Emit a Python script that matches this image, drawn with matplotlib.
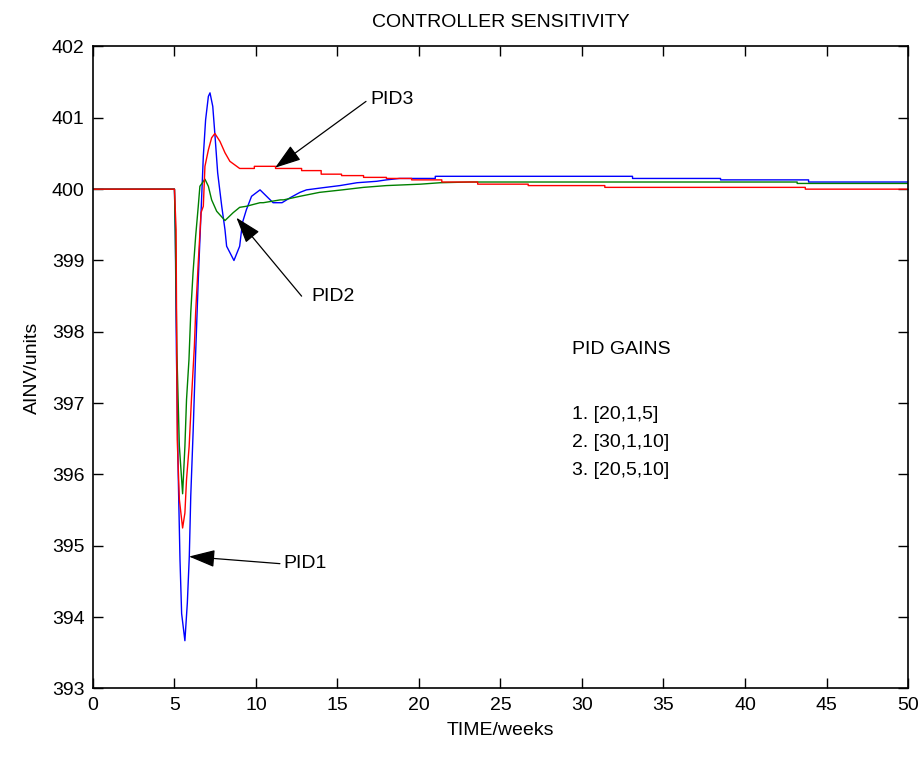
import matplotlib
matplotlib.use("Agg")
import matplotlib.pyplot as plt

plt.rcParams["font.family"] = ["Liberation Sans", "DejaVu Sans"]

# PID1 [20,1,5] - blue
pid1_t = [0, 5.0, 5.05, 5.12, 5.23, 5.34, 5.44, 5.64, 5.79, 5.91, 6.0, 6.15, 6.3, 6.46,
          6.63, 6.77, 6.91, 7.08, 7.18, 7.35, 7.49, 7.65, 7.9, 8.1, 8.2, 8.65, 9.0, 9.17,
          9.41, 9.73, 10.25, 11.05, 11.6, 12.1, 12.7, 13.1, 14.1, 15.15, 16.2, 17.4, 18.0,
          18.8, 21.0, 21.0, 33.1, 33.1, 38.5, 38.5, 43.9, 43.9, 50]
pid1_v = [400, 400, 399.4, 397.7, 396.0, 394.8, 394.05, 393.67, 394.2, 394.85, 395.7,
          396.63, 397.7, 398.73, 399.67, 400.46, 400.97, 401.3, 401.35, 401.16, 400.74,
          400.23, 399.76, 399.43, 399.2, 399.0, 399.2, 399.53, 399.71, 399.9, 399.99,
          399.81, 399.81, 399.88, 399.955, 399.99, 400.02, 400.05, 400.09, 400.11, 400.13,
          400.15, 400.15, 400.18, 400.18, 400.15, 400.15, 400.13, 400.13, 400.10, 400.10]

# PID2 [30,1,10] - green
pid2_t = [0, 5.0, 5.05, 5.15, 5.3, 5.5, 5.64, 5.74, 5.89, 6.0, 6.14, 6.3, 6.46, 6.56,
          6.87, 7.08, 7.28, 7.59, 8.1, 8.6, 9.0, 9.41, 10.25, 10.45, 11.5, 11.7, 12.7,
          13.9, 15.3, 16.6, 18.0, 20.1, 21.3, 23.1, 43.2, 43.2, 50]
pid2_v = [400, 400, 399.43, 397.7, 396.4, 395.73, 396.39, 397.05, 397.61, 398.27,
          398.83, 399.34, 399.76, 400.04, 400.14, 400.04, 399.85, 399.69, 399.56, 399.67,
          399.745, 399.76, 399.81, 399.81, 399.85, 399.85, 399.90, 399.955, 399.99,
          400.025, 400.05, 400.07, 400.09, 400.10, 400.10, 400.08, 400.08]

# PID3 [20,5,10] - red
pid3_t = [0, 5.0, 5.1, 5.17, 5.3, 5.5, 5.64, 5.74, 5.9, 6.05, 6.22, 6.3, 6.46, 6.63,
          6.77, 6.87, 7.08, 7.28, 7.48, 7.79, 8.1, 8.4, 9.0, 9.9, 9.9, 11.2, 11.2, 12.8,
          12.8, 14.0, 14.0, 15.25, 15.25, 16.6, 16.6, 18.0, 18.0, 19.55, 19.55, 21.4, 21.4,
          23.6, 23.6, 26.7, 26.7, 31.4, 31.4, 43.7, 43.7, 50]
pid3_v = [400, 400, 399.43, 396.49, 395.65, 395.25, 395.46, 395.93, 396.39, 397.09,
          397.79, 398.27, 398.97, 399.67, 399.76, 400.32, 400.55, 400.72, 400.78, 400.67,
          400.51, 400.39, 400.29, 400.29, 400.32, 400.32, 400.29, 400.29, 400.26, 400.26,
          400.21, 400.21, 400.19, 400.19, 400.165, 400.165, 400.15, 400.15, 400.13, 400.13,
          400.10, 400.10, 400.07, 400.07, 400.05, 400.05, 400.025, 400.025, 400.0, 400.0]

gains = ["1. [20,1,5]", "2. [30,1,10]", "3. [20,5,10]"]


def main() -> None:
    fig = plt.figure(figsize=(9.24, 7.57), dpi=100)
    ax = fig.add_axes([0.1006, 0.0905, 0.8821, 0.8481])

    ax.plot(pid1_t, pid1_v, color="#0000ff", lw=1.0)
    ax.plot(pid2_t, pid2_v, color="#008000", lw=1.0)
    ax.plot(pid3_t, pid3_v, color="#ff0000", lw=1.0)

    ax.set_xlim(0, 50)
    ax.set_ylim(393, 402)
    ax.set_xticks(range(0, 51, 5))
    ax.set_yticks(range(393, 403))
    ax.tick_params(direction="in", length=7, width=1, labelsize=14,
                   top=True, right=True, pad=6)
    for s in ax.spines.values():
        s.set_linewidth(1.2)

    ax.set_title("CONTROLLER SENSITIVITY", fontsize=14, pad=14)
    ax.set_xlabel("TIME/weeks", fontsize=14, labelpad=6)
    ax.set_ylabel("AINV/units", fontsize=14, labelpad=8)

    arrow = dict(arrowstyle="-|>,head_length=0.9,head_width=0.3", color="black",
                 lw=0.9, mutation_scale=18, shrinkA=0, shrinkB=0)
    ax.annotate("", xy=(11.17, 400.30), xytext=(16.75, 401.23), arrowprops=arrow)
    ax.text(17.0, 401.26, "PID3", fontsize=14, va="center", ha="left")
    ax.annotate("", xy=(8.8, 399.6), xytext=(12.8, 398.5), arrowprops=arrow)
    ax.text(13.4, 398.5, "PID2", fontsize=14, va="center", ha="left")
    ax.annotate("", xy=(5.89, 394.85), xytext=(11.47, 394.75), arrowprops=arrow)
    ax.text(11.7, 394.75, "PID1", fontsize=14, va="center", ha="left")

    ax.text(29.4, 397.75, "PID GAINS", fontsize=14, va="center", ha="left")
    for i, g in enumerate(gains):
        ax.text(29.4, 396.84 - 0.395 * i, g, fontsize=14, va="center", ha="left")

    fig.savefig("out.png", dpi=100)
    plt.close(fig)


if __name__ == "__main__":
    main()
